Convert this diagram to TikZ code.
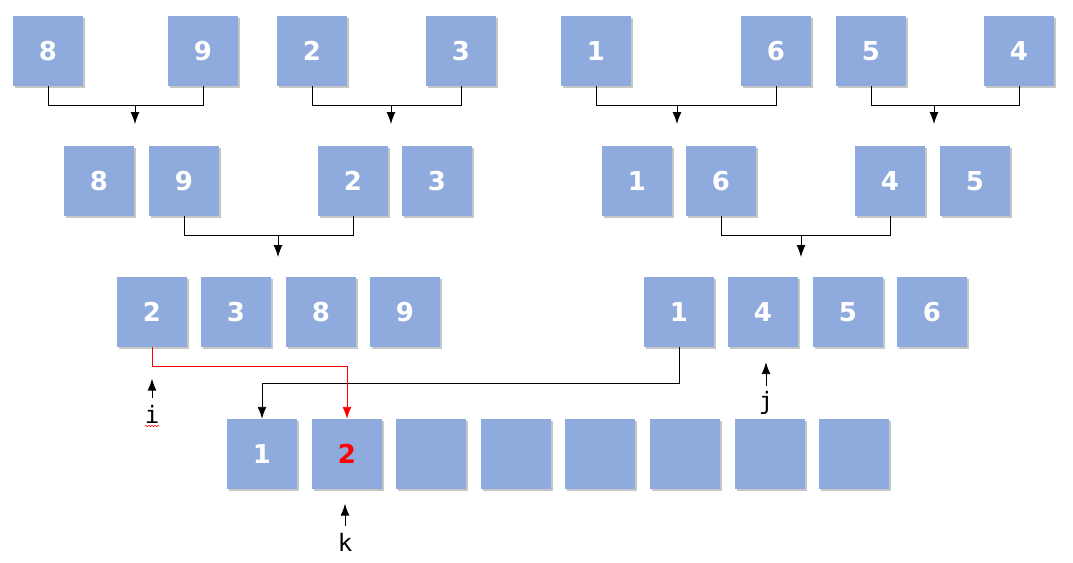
\documentclass[tikz,border=0pt]{standalone}
\usepackage{fontspec}
\usepackage{tikz}
\usetikzlibrary{arrows.meta,shadows,decorations.pathmorphing}
\newfontfamily\numfont{DejaVu Sans}
\newfontfamily\lblfont{DejaVu Sans Mono}
\definecolor{cellblue}{RGB}{143,170,220}
\tikzset{
  cell/.style={fill=cellblue, minimum size=70pt, inner sep=0pt,
    drop shadow={shadow xshift=2pt, shadow yshift=-2pt, opacity=0.45},
    font=\numfont\bfseries\fontsize{26}{30}\selectfont, text=white},
  link/.style={line width=0.9pt, -{Latex[length=12pt,width=9pt]}},
  ptr/.style={font=\lblfont\fontsize{24}{28}\selectfont, inner sep=1pt}
}

\begin{document}
\begin{tikzpicture}[x=1pt,y=-1pt]
\useasboundingbox (0,0) rectangle (1073,562);
% first row
\node[cell] (a1) at (48,51) {8};
\node[cell] (a2) at (203,51) {9};
\node[cell] (a3) at (312,51) {2};
\node[cell] (a4) at (461,51) {3};
\node[cell] (a5) at (596,51) {1};
\node[cell] (a6) at (776,51) {6};
\node[cell] (a7) at (871,51) {5};
\node[cell] (a8) at (1019,51) {4};
% second row
\node[cell] (b1) at (99,181) {8};
\node[cell] (b2) at (184,181) {9};
\node[cell] (b3) at (353,181) {2};
\node[cell] (b4) at (437,181) {3};
\node[cell] (b5) at (637,181) {1};
\node[cell] (b6) at (721,181) {6};
\node[cell] (b7) at (890,181) {4};
\node[cell] (b8) at (975,181) {5};
% third row
\node[cell] (c1) at (152,312) {2};
\node[cell] (c2) at (236,312) {3};
\node[cell] (c3) at (321,312) {8};
\node[cell] (c4) at (405,312) {9};
\node[cell] (c5) at (679,312) {1};
\node[cell] (c6) at (763,312) {4};
\node[cell] (c7) at (848,312) {5};
\node[cell] (c8) at (932,312) {6};
% merged row
\node[cell] (d1) at (262,454) {1};
\node[cell, text=red] (d2) at (347,454) {2};
\node[cell] (d3) at (431,454) {};
\node[cell] (d4) at (516,454) {};
\node[cell] (d5) at (600,454) {};
\node[cell] (d6) at (685,454) {};
\node[cell] (d7) at (770,454) {};
\node[cell] (d8) at (854,454) {};
% brackets
\draw[line width=0.9pt] (a1.south) -- ++(0,19) -| (a2.south);
\draw[line width=0.9pt] (a3.south) -- ++(0,19) -| (a4.south);
\draw[line width=0.9pt] (a5.south) -- ++(0,19) -| (a6.south);
\draw[line width=0.9pt] (a7.south) -- ++(0,19) -| (a8.south);
\draw[line width=0.9pt] (b2.south) -- ++(0,19) -| (b3.south);
\draw[line width=0.9pt] (b6.south) -- ++(0,19) -| (b7.south);
\coordinate (m1) at (135,105);
\coordinate (m2) at (391,105);
\coordinate (m3) at (677,105);
\coordinate (m4) at (934,105);
\coordinate (m5) at (278,235);
\coordinate (m6) at (801,235);
\draw[link] (m1) -- ++(0,19);
\draw[link] (m2) -- ++(0,19);
\draw[link] (m3) -- ++(0,19);
\draw[link] (m4) -- ++(0,19);
\draw[link] (m5) -- ++(0,22);
\draw[link] (m6) -- ++(0,22);
% merge step
\draw[link] (c5.south) -- ++(0,36) -| (d1.north);
\draw[link, red] (c1.south) -- ++(0,19) -| (d2.north);
% pointers
\node[ptr] (pi) at (152,414) {i};
\node[ptr] (pj) at (766,403) {j};
\node[ptr] (pk) at (345,542) {k};
\draw[link, shorten <=6pt] (pi.north) -- ++(0,-25);
\draw[link, shorten <=4pt] (pj.north) -- ++(0,-28);
\draw[link, shorten <=6pt] (pk.north) -- ++(0,-28);
\draw[red, line width=0.5pt, decorate, decoration={snake, amplitude=0.8pt, segment length=3pt}] (145,426) -- (159,426);
\end{tikzpicture}
\end{document}
